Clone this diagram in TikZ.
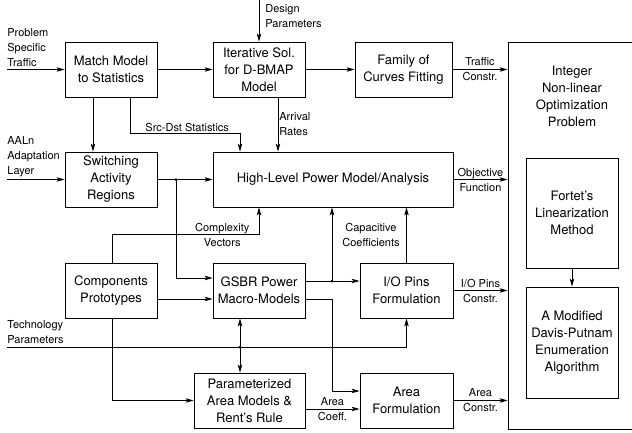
\documentclass[tikz,border=0pt]{standalone}
\usepackage{fontspec}
\setmainfont{TeX Gyre Heros}
\usepackage{tikz}
\usetikzlibrary{arrows.meta}

\tikzset{
  blk/.style={draw, line width=0.8pt, minimum width=92pt, minimum height=55pt, align=center, inner sep=2pt, font=\fontsize{13}{17}\selectfont},
  lbl/.style={align=center, inner sep=1pt, font=\fontsize{11}{15}\selectfont},
  side/.style={align=left, inner sep=0pt, anchor=west, font=\fontsize{11}{15}\selectfont},
  arr/.style={line width=0.8pt, -{Stealth[length=8pt,width=4.5pt,inset=2pt]}},
  dot/.style={fill, inner sep=0pt, minimum size=3pt, circle}
}

\begin{document}
\begin{tikzpicture}[x=1pt,y=-1pt,line width=0.8pt]
\clip (0,0) rectangle (632,432);% picture size 632x432, y runs downwards
% boxes
\node[blk] (match) at (111,69.5) {Match Model\\to Statistics};
\node[blk] (iter) at (259,69.5) {Iterative Sol.\\for D-BMAP\\Model};
\node[blk, minimum width=97pt] (family) at (403.5,69.5) {Family of\\Curves Fitting};
\node[blk] (switch) at (111,179.5) {Switching\\Activity\\Regions};
\node[blk, minimum width=240pt] (hlp) at (333,179.5) {High-Level Power Model/Analysis};
\node[blk] (comp) at (111,290.5) {Components\\Prototypes};
\node[blk] (gsbr) at (259,290.5) {GSBR Power\\Macro-Models};
\node[blk, minimum width=93pt] (io) at (406.5,290.5) {I/O Pins\\Formulation};
\node[blk, minimum width=111pt] (param) at (249.5,400.5) {Parameterized\\Area Models \&\\Rent's Rule};
\node[blk, minimum width=93pt] (area) at (406.5,400.5) {Area\\Formulation};
\node[blk, minimum width=142pt, minimum height=387pt] (optim) at (579,235.5) {};% runs past the right edge
\node[blk, draw=none] (optimtxt) at (572,96) {Integer\\Non-linear\\Optimization\\Problem};
\node[blk, minimum height=110pt] (fortet) at (572,213) {Fortet's\\Linearization\\Method};
\node[blk, minimum height=111pt] (davis) at (572,342.5) {A Modified\\Davis-Putnam\\Enumeration\\Algorithm};
% inputs from the left and the top
\coordinate (trafficin) at (7,69.5);
\coordinate (aalnin) at (7,179.5);
\coordinate (techin) at (7,347);
\coordinate (designin) at (259,0);
\node[side] (trafficlbl) at (7,48) {Problem\\Specific\\Traffic};
\node[side] (aalnlbl) at (7,157) {AALn\\Adaptation\\Layer};
\node[side] (techlbl) at (7,332.5) {Technology\\Parameters};
\node[side] (designlbl) at (265,16.5) {Design\\Parameters};
\draw[arr] (trafficin) -- (match);
\draw[arr] (aalnin) -- (switch);
\draw[arr] (designin) -- (iter.north);
% top row
\draw[arr] (match) -- (iter);
\draw[arr] (iter) -- (family);
\draw[arr] (family.east) -- node[lbl] {Traffic\\Constr.} (family.east -| optim.west);
\draw[arr] ([xshift=-18pt]match.south) -- ([xshift=-18pt]switch.north);
\draw[arr] ([xshift=19pt]match.south) -- ++(0,36) -| node[lbl, above, pos=0.26] {Src-Dst Statistics} ([xshift=-93pt]hlp.north);
\draw[arr] ([xshift=19pt]iter.south) -- node[lbl, right, align=left] {Arrival\\Rates} ([xshift=19pt]iter.south |- hlp.north);
% middle row
\coordinate (split) at (176,179.5);
\draw[arr] (switch) -- (hlp);
\node[dot] (splitdot) at (split) {};
\draw[arr] (split) |- ([yshift=12.5pt]gsbr.west);
\draw[arr] (hlp.east) -- node[lbl] {Objective\\Function} (hlp.east -| optim.west);
\draw[arr] ([xshift=1pt]comp.north) -- ++(0,-28) -| node[lbl, pos=0.375] {Complexity\\Vectors} ([xshift=-74pt]hlp.south);
% lower rows
\draw[arr] ([yshift=-8.5pt]comp.east) -- ([yshift=-8.5pt]gsbr.west);
\draw[arr] ([yshift=9.5pt]gsbr.east) -- ([yshift=9.5pt]io.west);
\coordinate (capsplit) at (332,281);
\node[dot] (capdot) at (capsplit) {};
\draw[arr] (capsplit) -- (capsplit |- hlp.south);
\draw[arr] (io.north) -- (io.north |- hlp.south);
\node[lbl] (caplbl) at (371,235) {Capacitive\\Coefficients};
\draw[arr] ([yshift=-8.5pt]gsbr.east) -- ++(27,0) |- ([yshift=9.5pt]area.west);
\draw[arr] (io.east) -- node[lbl] {I/O Pins\\Constr.} (io.east -| optim.west);
\draw[arr] (techin) -| (io.south);
\coordinate (techsplit) at (240,347);
\node[dot] (techdot) at (techsplit) {};
\draw[arr] (techsplit) -- (techsplit |- gsbr.south);
\draw[arr] (techsplit) -- (techsplit |- param.north);
\draw[arr] ([xshift=1pt]comp.south) |- (param.west);
\draw[arr] ([yshift=-8.5pt]param.east) -- node[lbl] {Area\\Coeff.} ([yshift=-8.5pt]area.west);
\draw[arr] (area.east) -- node[lbl] {Area\\Constr.} (area.east -| optim.west);
\draw[arr] (fortet) -- (davis);
\end{tikzpicture}
\end{document}
